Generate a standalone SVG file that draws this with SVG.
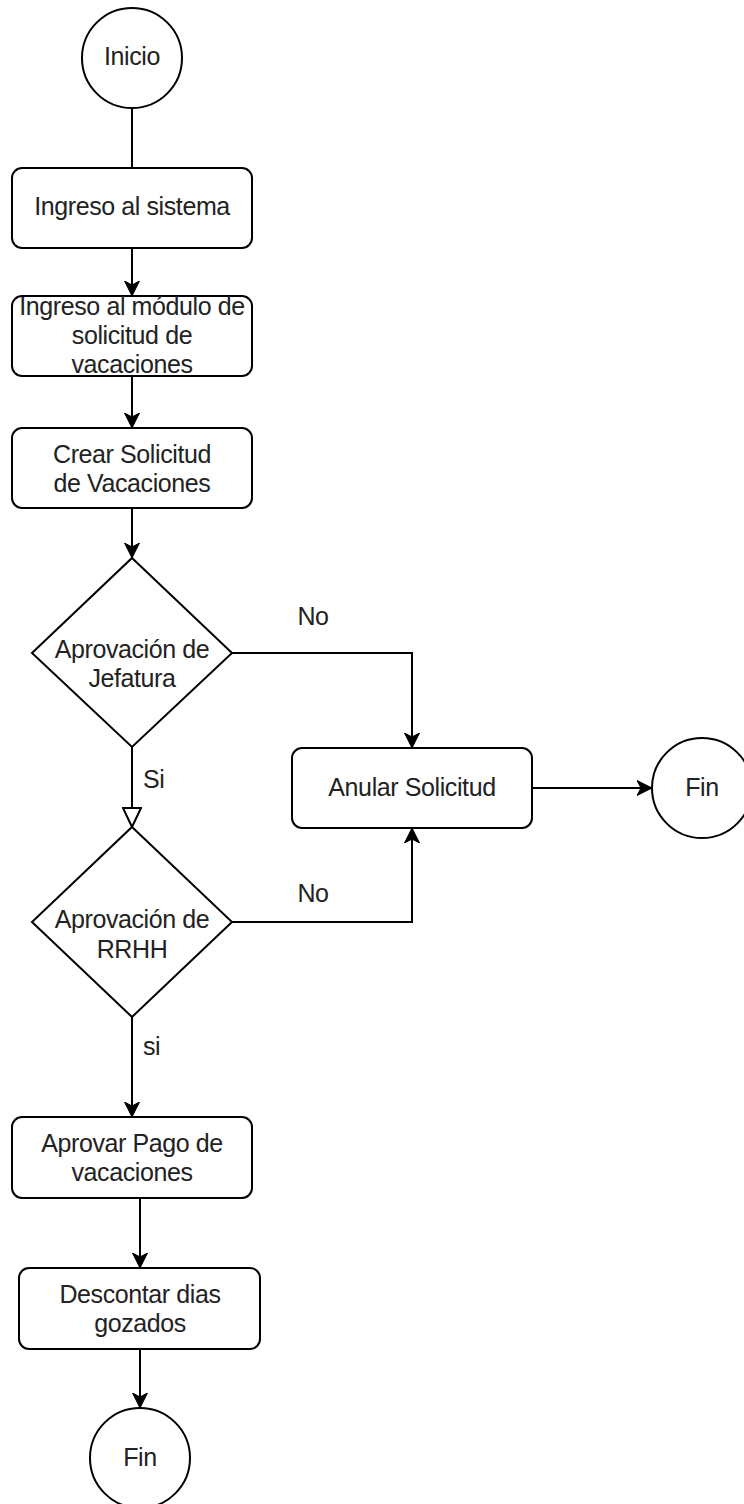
<svg xmlns="http://www.w3.org/2000/svg" width="744" height="1504" viewBox="0 0 744 1504">
<style>
.shape{fill:#fff;stroke:#000;stroke-width:2}
.edge{fill:none;stroke:#000;stroke-width:2}
text{font-family:"Liberation Sans",Arial,Helvetica,sans-serif;font-size:25px;letter-spacing:-0.4px;fill:#222;text-anchor:middle}
.lbl{text-anchor:start}
</style>
<defs>
<marker id="arr" markerUnits="userSpaceOnUse" markerWidth="18" markerHeight="18" refX="15" refY="8" orient="auto">
<path d="M0,0.5 L15,8 L0,15.5 L4,8 Z" fill="#000" stroke="#000" stroke-width="1"/>
</marker>
<marker id="open" markerUnits="userSpaceOnUse" markerWidth="22" markerHeight="20" refX="20" refY="10" orient="auto">
<path d="M1,1 L20,10 L1,19 Z" fill="#fff" stroke="#000" stroke-width="2"/>
</marker>
</defs>
<g id="connectors">
<path class="edge" d="M132,108 L132,168"/>
<path class="edge" d="M132,248 L132,296" marker-end="url(#arr)"/>
<path class="edge" d="M132,376 L132,428" marker-end="url(#arr)"/>
<path class="edge" d="M132,508 L132,558" marker-end="url(#arr)"/>
<path class="edge" d="M132,747 L132,827" marker-end="url(#open)"/>
<text class="lbl" x="143" y="788">Si</text>
<path class="edge" d="M232,653 L412,653 L412,748" marker-end="url(#arr)"/>
<text x="313" y="625">No</text>
<path class="edge" d="M232,922 L412,922 L412,828" marker-end="url(#arr)"/>
<text x="313" y="902">No</text>
<path class="edge" d="M532,788 L652,788" marker-end="url(#arr)"/>
<path class="edge" d="M132,1017 L132,1117" marker-end="url(#arr)"/>
<text class="lbl" x="143" y="1055">si</text>
<path class="edge" d="M140,1198 L140,1268" marker-end="url(#arr)"/>
<path class="edge" d="M140,1349 L140,1408" marker-end="url(#arr)"/>
</g>
<g id="inicio">
<circle class="shape" cx="132" cy="58" r="50"/>
<text x="132" y="65">Inicio</text>
</g>
<g id="ingreso-sistema">
<rect class="shape" x="12" y="168" width="240" height="80" rx="10"/>
<text x="132" y="215">Ingreso al sistema</text>
</g>
<g id="ingreso-modulo">
<rect class="shape" x="12" y="296" width="240" height="80" rx="10"/>
<text x="132" y="315">Ingreso al módulo de</text>
<text x="132" y="344">solicitud de</text>
<text x="132" y="373">vacaciones</text>
</g>
<g id="crear-solicitud">
<rect class="shape" x="12" y="428" width="240" height="80" rx="10"/>
<text x="132" y="463">Crear Solicitud</text>
<text x="132" y="492">de Vacaciones</text>
</g>
<g id="aprov-jefatura">
<polygon class="shape" points="132,558 232,653 132,747 32,653"/>
<text x="132" y="658">Aprovación de</text>
<text x="132" y="687">Jefatura</text>
</g>
<g id="aprov-rrhh">
<polygon class="shape" points="132,827 232,922 132,1017 32,922"/>
<text x="132" y="928">Aprovación de</text>
<text x="132" y="958">RRHH</text>
</g>
<g id="anular">
<rect class="shape" x="292" y="748" width="240" height="80" rx="10"/>
<text x="412" y="796">Anular Solicitud</text>
</g>
<g id="fin-anular">
<circle class="shape" cx="702" cy="788" r="50"/>
<text x="702" y="796">Fin</text>
</g>
<g id="aprovar-pago">
<rect class="shape" x="12" y="1117" width="240" height="81" rx="10"/>
<text x="132" y="1152">Aprovar Pago de</text>
<text x="132" y="1181">vacaciones</text>
</g>
<g id="descontar">
<rect class="shape" x="19" y="1268" width="241" height="81" rx="10"/>
<text x="140" y="1303">Descontar dias</text>
<text x="140" y="1332">gozados</text>
</g>
<g id="fin">
<circle class="shape" cx="140" cy="1458" r="50"/>
<text x="140" y="1466">Fin</text>
</g>
</svg>
